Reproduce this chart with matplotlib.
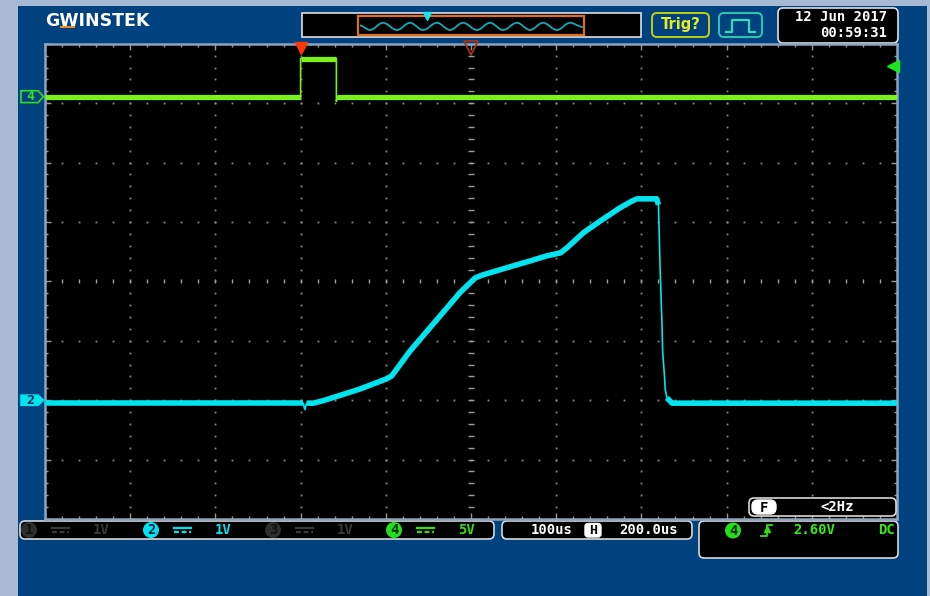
import numpy as np
import matplotlib.pyplot as plt
from matplotlib.patches import Rectangle, FancyBboxPatch, Polygon, Circle, PathPatch
from matplotlib.path import Path

W, H = 930, 596

# scope settings
time_div = 100.0      # us/div
h_pos = 200.0         # us at screen centre
ch2_scale, ch2_pos = 1.0, -2.0    # V/div, ground position (div)
ch4_scale, ch4_pos = 5.0, 3.11
trig_level = 2.60

# CH2 trace (us, V)
ch2_t = [-300, 3, 5, 7, 15, 26, 46, 70, 101, 107,
         128, 187, 205, 214, 242, 266, 289, 305, 313, 332,
         351, 375, 390, 395, 418, 420, 422, 424, 425, 427,
         428, 430, 436, 700]
ch2_v = [-0.05, -0.05, -0.16, -0.05, -0.05, -0.01, 0.08, 0.19, 0.36, 0.41,
         0.82, 1.81, 2.06, 2.11, 2.23, 2.33, 2.43, 2.48, 2.57, 2.82,
         3.01, 3.24, 3.36, 3.39, 3.39, 3.29, 2.20, 1.36, 0.80, 0.43,
         0.18, 0.04, -0.05, -0.05]

# CH4 trace (us, V)
ch4_t = [-300, 0, 0, 42, 42, 43, 700]
ch4_v = [0, 0, 3.2, 3.2, -0.4, 0, 0]

# overview strip wave (screen pixels)
ov_x = [360, 370, 383, 397, 410, 423, 437, 450, 463, 477, 490, 503, 517, 530, 543, 557, 570, 583]
ov_y = [25.5, 30, 22.8, 30, 22.8, 30, 22.8, 30, 22.8, 30, 22.8, 30, 22.8, 30, 22.8, 30, 22.8, 27]

CYAN = '#00e4f0'
GREEN = '#7cf01c'
BLUE = '#00417f'
LIGHT = '#a7b9d3'
MONO = 'DejaVu Sans Mono'

px_per_us = 852 / 1000.0
px_per_div = 475.2 / 8


def draw_trace(ax, t, v, scale, pos, color, lw_thick, lw_thin):
    x = np.asarray(t, float)
    y = np.asarray(v, float) / scale + pos
    dx = np.abs(np.diff(x)) * px_per_us
    dy = np.abs(np.diff(y)) * px_per_div
    steep = dy > 3.5 * dx
    ax.plot(x, y, color=color, lw=lw_thin, zorder=4)
    # thick runs for the slow parts, thin for fast edges
    start = None
    for i, s in enumerate(list(steep) + [True]):
        if not s and start is None:
            start = i
        elif s and start is not None:
            ax.plot(x[start:i + 1], y[start:i + 1], color=color, lw=lw_thick,
                    solid_joinstyle='round', solid_capstyle='butt', zorder=5)
            start = None


fig = plt.figure(figsize=(W / 100, H / 100), dpi=100, facecolor=LIGHT)

# ---- background panel / header ----
bg = fig.add_axes([0, 0, 1, 1], zorder=0)
bg.set_xlim(0, W)
bg.set_ylim(H, 0)
bg.axis('off')
bg.add_patch(Rectangle((18, 6), 909, 590, fc=BLUE, ec='none'))


def box(a, x0, y0, x1, y1, ec='#d0d0d0', fc='black', lw=1.2, r=4):
    a.add_patch(FancyBboxPatch((x0, y0), x1 - x0, y1 - y0,
                               boxstyle=f"round,pad=0,rounding_size={r}",
                               fc=fc, ec=ec, lw=lw))


# logo
bg.text(45, 20.5, "GWINSTEK", color='white', fontsize=12.5, weight='bold',
        family='DejaVu Sans', va='center', ha='left')
bg.add_patch(Rectangle((60, 25.5), 15, 2, fc='#f08a24', ec='none'))

# overview strip
bg.add_patch(Rectangle((302, 13), 339, 24, fc='black', ec='#e0e0e0', lw=1.2))
bg.add_patch(Rectangle((358, 16), 226, 19, fc='none', ec='#e07018', lw=1.6))
verts = [(ov_x[0], ov_y[0])]
codes = [Path.MOVETO]
for i in range(1, len(ov_x)):
    d = 0.36 * (ov_x[i] - ov_x[i - 1])
    verts += [(ov_x[i - 1] + d, ov_y[i - 1]), (ov_x[i] - d, ov_y[i]), (ov_x[i], ov_y[i])]
    codes += [Path.CURVE4] * 3
bg.add_patch(PathPatch(Path(verts, codes), fc='none', ec='#12aab4', lw=1.3))
bg.plot([427], [15.5], marker='v', ms=6, color='#20e0f0', ls='none')

# Trig? and signal boxes
box(bg, 652, 13, 709, 37, ec='#c0d010', fc='none', lw=1.4, r=5)
bg.text(680.5, 25, "Trig?", color='#e8ec20', fontsize=10.5, weight='bold',
        family='DejaVu Sans', ha='center', va='center')
box(bg, 719, 13, 762, 37, ec='#2cc8b0', fc='none', lw=1.4, r=5)
bg.plot([726, 732, 732, 749, 749, 755], [31.5, 31.5, 19.5, 19.5, 31.5, 31.5],
        color='#34dcb8', lw=1.6)

# date/time
box(bg, 778, 8, 898, 43, ec='#e0e0e0', fc='black', lw=1.2, r=5)
bg.text(887, 17, "12 Jun 2017", color='white', fontsize=10, family=MONO,
        weight='bold', ha='right', va='center')
bg.text(887, 33, "00:59:31", color='white', fontsize=10, family=MONO,
        weight='bold', ha='right', va='center')

# channel bar
box(bg, 20, 521, 494, 539, ec='#d8d8d8', fc='black', lw=1.2, r=5)
chan_items = [(29, '1', '#2e2e2e', '#101010', '#3a3a3a', '1V', 101),
              (151, '2', CYAN, '#002040', CYAN, '1V', 223),
              (273, '3', '#2e2e2e', '#101010', '#3a3a3a', '1V', 345),
              (394, '4', '#22e01c', '#003000', '#34e010', '5V', 466)]
for cx, num, fc, tc, txc, lab, lx in chan_items:
    bg.add_patch(Circle((cx, 530), 8, fc=fc, ec='none'))
    bg.text(cx, 530.5, num, color=tc, fontsize=10, weight='bold', family=MONO,
            ha='center', va='center')
    sx = cx + 23
    bg.plot([sx, sx + 17], [528, 528], color=txc, lw=1.6)
    bg.plot([sx, sx + 17], [532, 532], color=txc, lw=1.6, ls=(0, (2.2, 1.2)))
    bg.text(lx, 530, lab, color=txc, fontsize=10, weight='bold', family=MONO,
            ha='center', va='center')

# timebase
box(bg, 502, 521, 692, 539, ec='#d8d8d8', fc='black', lw=1.2, r=5)
bg.text(552, 530, "100us", color='white', fontsize=10, weight='bold', family=MONO,
        ha='center', va='center')
box(bg, 585, 523.5, 601, 537, ec='white', fc='white', lw=1, r=3)
bg.text(593, 530.5, "H", color='black', fontsize=9.5, weight='bold', family=MONO,
        ha='center', va='center')
bg.text(649, 530, "200.0us", color='white', fontsize=10, weight='bold', family=MONO,
        ha='center', va='center')

# trigger info
box(bg, 699, 521, 898, 558, ec='#d8d8d8', fc='black', lw=1.2, r=5)
bg.add_patch(Circle((733, 530.5), 8, fc='#22e01c', ec='none'))
bg.text(733, 531, '4', color='#003000', fontsize=10, weight='bold', family=MONO,
        ha='center', va='center')
bg.plot([761, 767, 767, 772], [536, 536, 525, 525], color='#30e010', lw=1.3)
bg.plot([767], [529], marker='^', ms=4, color='#30e010')
bg.text(814, 530, "2.60V", color='#34ee10', fontsize=10, weight='bold', family=MONO,
        ha='center', va='center')
bg.text(886, 530, "DC", color='#34ee10', fontsize=10, weight='bold', family=MONO,
        ha='center', va='center')

# ---- scope screen ----
ax = fig.add_axes([45 / W, 1 - 519 / H, 852 / W, 475.2 / H], zorder=1)
ax.set_facecolor('black')
t0, t1 = h_pos - 5 * time_div, h_pos + 5 * time_div
ax.set_xlim(t0, t1)
ax.set_ylim(-4, 4)

maj_t = np.arange(t0, t1 + 1, time_div)
min_t = np.arange(t0, t1 + 1, time_div / 5)
maj_y = np.arange(-4, 5, 1.0)
min_y = np.round(np.arange(-4, 4.01, 0.2), 2)

dot = dict(ls='none', marker='s', ms=1.3, mew=0, color='#8a8a8a', zorder=1)
for t in maj_t[1:-1]:
    if t != h_pos:
        ax.plot(np.full(len(min_y), t), min_y, **dot)
for yv in maj_y[1:-1]:
    if yv != 0:
        ax.plot(min_t, np.full(len(min_t), yv), **dot)
# centre cross with sub-division marks
ax.plot(np.full(len(min_y), h_pos), min_y, ls='none', marker='_', ms=3.8, mew=1,
        color='#a0a0a0', zorder=1)
ax.plot(min_t, np.zeros(len(min_t)), ls='none', marker='|', ms=3.2, mew=1,
        color='#a0a0a0', zorder=1)

ax.set_xticks(maj_t)
ax.set_xticks(min_t, minor=True)
ax.set_yticks(maj_y)
ax.set_yticks(min_y, minor=True)
ax.tick_params(which='both', direction='in', top=True, right=True,
               labelbottom=False, labelleft=False, color='#9a9a9a')
ax.tick_params(which='major', length=4.5, width=1)
ax.tick_params(which='minor', length=2.5, width=1)
for sp in ax.spines.values():
    sp.set_color('#8ea4bd')
    sp.set_linewidth(1.8)

draw_trace(ax, ch4_t, ch4_v, ch4_scale, ch4_pos, GREEN, 3.8, 1.2)
draw_trace(ax, ch2_t, ch2_v, ch2_scale, ch2_pos, CYAN, 4.0, 1.2)

xt = ax.get_xaxis_transform()
yt = ax.get_yaxis_transform()


def fx(px):
    return (px - 45) / 852.0


# trigger position and horizontal centre markers
ax.plot([0], [1 - 4 / 475], transform=xt, marker='v', ms=9, color='#ff3a00',
        ls='none', clip_on=False, zorder=6)
ax.plot([h_pos], [1 - 4 / 475], transform=xt, marker='v', ms=10, mfc='none',
        mec='#a83410', mew=1.3, ls='none', clip_on=False, zorder=6)
# trigger level marker
ax.plot([fx(893)], [ch4_pos + trig_level / ch4_scale], transform=yt, marker='<',
        ms=9, color='#1ee61e', ls='none', clip_on=False, zorder=6)

# channel ground markers
for pos, num, fc, ec, tc, hh in [(ch4_pos, '4', 'none', '#30e020', '#30e020', 0.1),
                                 (ch2_pos, '2', CYAN, CYAN, '#002050', 0.085)]:
    ax.add_patch(Polygon([(fx(21), pos + hh), (fx(38), pos + hh), (fx(43.5), pos),
                          (fx(38), pos - hh), (fx(21), pos - hh)],
                         closed=True, transform=yt, fc=fc, ec=ec, lw=1.2,
                         clip_on=False, zorder=6))
    ax.text(fx(30), pos, num, transform=yt, color=tc, fontsize=9.5, weight='bold',
            family=MONO, ha='center', va='center', clip_on=False, zorder=7)

# ---- frequency readout overlapping the screen ----
top = fig.add_axes([0, 0, 1, 1], zorder=2)
top.set_xlim(0, W)
top.set_ylim(H, 0)
top.axis('off')
box(top, 749, 498, 896, 516, ec='#d8d8d8', fc='black', lw=1.2, r=5)
box(top, 752, 500, 776, 514, ec='white', fc='white', lw=1, r=6)
top.text(764, 507.5, "F", color='black', fontsize=10, weight='bold', family=MONO,
         ha='center', va='center')
top.text(837, 507, "<2Hz", color='white', fontsize=10, weight='bold', family=MONO,
         ha='center', va='center')

fig.savefig('out.png', dpi=100, facecolor=fig.get_facecolor())
